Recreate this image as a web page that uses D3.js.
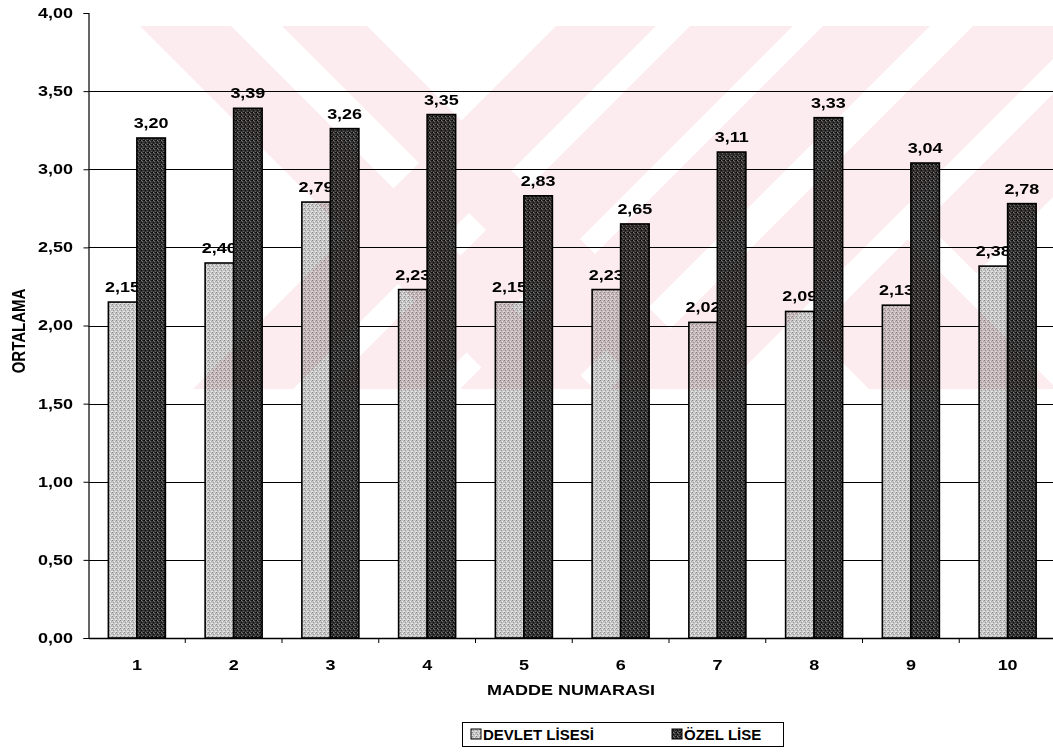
<!DOCTYPE html>
<html>
<head>
<meta charset="utf-8">
<script src="https://cdn.jsdelivr.net/npm/d3@7"></script>
<style>
  html, body { margin: 0; padding: 0; background: #fff; }
  svg { display: block; }
  text { font-family: "Liberation Sans", Arial, sans-serif; font-weight: bold; fill: #000; }
</style>
</head>
<body>
<svg id="chart" width="1053" height="753"></svg>
<script>
// Item numbers and mean scores for the two school types
const items = ["1", "2", "3", "4", "5", "6", "7", "8", "9", "10"];
const seriesNames = ["DEVLET LİSESİ", "ÖZEL LİSE"];
const devletValues = [2.15, 2.40, 2.79, 2.23, 2.15, 2.23, 2.02, 2.09, 2.13, 2.38];
const ozelValues = [3.20, 3.39, 3.26, 3.35, 2.83, 2.65, 3.11, 3.33, 3.04, 2.78];
const yTicks = [0, 0.5, 1, 1.5, 2, 2.5, 3, 3.5, 4];
const yTitle = "ORTALAMA";
const xTitle = "MADDE NUMARASI";

const rows = items.map((k, i) => ({ item: k, values: [devletValues[i], ozelValues[i]] }));

const svg = d3.select("#chart");
const W = 1053, H = 753;
const plot = { left: 88.5, right: 1056, top: 13, bottom: 638 };
const SX = 1.2; // horizontal stretch applied to chart lettering
const FS = 15;

const fmt = v => d3.format(".2f")(v).replace(".", ",");

const x0 = d3.scaleBand().domain(items).range([plot.left, plot.right]).paddingInner(0).paddingOuter(0);
const x1 = d3.scaleBand().domain(seriesNames).range([0, x0.bandwidth()]).paddingInner(0).paddingOuter(0.697);
const y = d3.scaleLinear().domain([0, 4]).range([plot.bottom, plot.top]);

// stippled fills for the two series
const defs = svg.append("defs");
function stipple(id, base, dots) {
  const p = defs.append("pattern").attr("id", id).attr("width", 4).attr("height", 4)
    .attr("patternUnits", "userSpaceOnUse");
  p.append("rect").attr("width", 4).attr("height", 4).attr("fill", base);
  dots.forEach(d => p.append("rect").attr("x", d[0]).attr("y", d[1]).attr("width", 1).attr("height", 1).attr("fill", d[2]));
}
stipple("fillLight", "#c6c6c6", [[0,0,"#8a8a8a"],[2,1,"#eeeeee"],[1,2,"#9a9a9a"],[3,3,"#e8e8e8"],[3,1,"#aaaaaa"],[0,3,"#e0e0e0"]]);
stipple("fillDark", "#333333", [[0,0,"#050505"],[2,1,"#6e6e6e"],[1,2,"#0c0c0c"],[3,3,"#606060"],[3,0,"#151515"],[1,0,"#7c7c7c"]]);
const fills = ["url(#fillLight)", "url(#fillDark)"];

// lettering is widened horizontally; for vertical text the widening acts across the glyphs
function stretchedText(g, x, yy, str, anchor, baseline, rotate) {
  const tf = rotate
    ? `translate(${x},${yy}) rotate(${rotate}) scale(1,${SX})`
    : `translate(${x},${yy}) scale(${SX},1)`;
  const t = g.append("text")
    .attr("transform", tf)
    .attr("text-anchor", anchor)
    .attr("font-size", FS)
    .text(str);
  if (baseline) t.attr("dominant-baseline", baseline);
  return t;
}

// horizontal gridlines
const grid = svg.append("g");
grid.selectAll("line").data(yTicks.filter(v => v > 0 && v < 4)).join("line")
  .attr("x1", plot.left).attr("x2", plot.right)
  .attr("y1", d => Math.round(y(d)) + 0.5).attr("y2", d => Math.round(y(d)) + 0.5)
  .attr("stroke", "#000").attr("stroke-width", 1.2);

// y axis
const yAxis = svg.append("g").attr("transform", `translate(${plot.left},0)`)
  .call(d3.axisLeft(y).tickValues(yTicks).tickSize(5).tickFormat(""));
yAxis.select(".domain").attr("stroke", "#000").attr("stroke-width", 1.2);
yAxis.selectAll(".tick line").attr("stroke", "#000");
const yLab = svg.append("g");
yTicks.forEach(v => stretchedText(yLab, 73, y(v), fmt(v), "end", "central"));

// x axis
const xAxis = svg.append("g").attr("transform", `translate(0,${plot.bottom})`)
  .call(d3.axisBottom(x0).tickSize(0).tickFormat(""));
xAxis.select(".domain").attr("stroke", "#000").attr("stroke-width", 1.5);
xAxis.selectAll(".tick").remove();
const bounds = d3.range(1, items.length).map(i => plot.left + i * x0.step());
svg.append("g").selectAll("line").data(bounds).join("line")
  .attr("x1", d => d).attr("x2", d => d).attr("y1", plot.bottom).attr("y2", plot.bottom + 5)
  .attr("stroke", "#000");
const xLab = svg.append("g");
items.forEach(k => stretchedText(xLab, x0(k) + x0.bandwidth() / 2, 665, k, "middle", "central"));

// axis titles
stretchedText(svg, 19, 331, yTitle, "middle", "central", -90);
stretchedText(svg, 571, 690, xTitle, "middle", "central");

// bars and their value labels, series by series
const barsG = svg.append("g");
seriesNames.forEach((s, si) => {
  const g = barsG.append("g");
  g.selectAll("rect").data(rows).join("rect")
    .attr("x", d => x0(d.item) + x1(s))
    .attr("y", d => y(d.values[si]))
    .attr("width", x1.bandwidth())
    .attr("height", d => y(0) - y(d.values[si]))
    .attr("fill", fills[si])
    .attr("stroke", "#000").attr("stroke-width", 1.6);
  rows.forEach(d => stretchedText(g, x0(d.item) + x1(s) + x1.bandwidth() / 2, y(d.values[si]) - 10, fmt(d.values[si]), "middle", null));
});

// faint diagonal background mark over the upper plot, multiplied onto everything beneath
const mark = svg.append("g").style("mix-blend-mode", "multiply");
defs.append("clipPath").attr("id", "markClip").append("rect")
  .attr("x", 100).attr("y", 26).attr("width", W - 100).attr("height", 363);
const mg = mark.append("g").attr("clip-path", "url(#markClip)");
const mTop = 26, mBot = 389;
function back(a, b) { // x - y within [a, b]
  return [[a + mTop, mTop], [b + mTop, mTop], [b + mBot, mBot], [a + mBot, mBot]];
}
function fwd(a, b) { // x + y within [a, b]
  return [[a - mTop, mTop], [b - mTop, mTop], [b - mBot, mBot], [a - mBot, mBot]];
}
const shapes = [
  back(114, 205), back(256, 341),
  fwd(582, 682), fwd(716, 819), fwd(849, 956), fwd(999, 1112),
  [[907.5, 239.5], [1057, 389], [869, 389], [813.5, 333.5]],
  [[925, 222], [976.5, 273.5], [1224, 26], [1121, 26]]
];
mg.selectAll("polygon").data(shapes).join("polygon")
  .attr("points", d => d.map(p => p.join(",")).join(" "))
  .attr("fill", "#fcecef");

// legend
const lg = svg.append("g");
lg.append("rect").attr("x", 462.5).attr("y", 722.5).attr("width", 321).attr("height", 24)
  .attr("fill", "#fff").attr("stroke", "#000").attr("stroke-width", 1);
const legendX = [471, 672];
seriesNames.forEach((s, si) => {
  lg.append("rect").attr("x", legendX[si]).attr("y", 729).attr("width", 10).attr("height", 10)
    .attr("fill", fills[si]).attr("stroke", "#000").attr("stroke-width", 1);
  lg.append("text").attr("x", legendX[si] + 12).attr("y", 734.5).attr("dominant-baseline", "central")
    .attr("font-size", FS).text(s);
});
</script>
</body>
</html>
